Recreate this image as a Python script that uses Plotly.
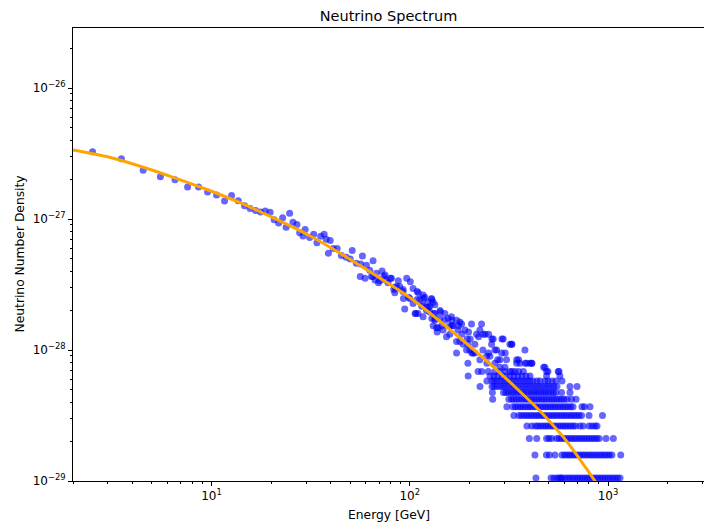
import math
import plotly.graph_objects as go

# ---------------- data ----------------
COUNT_UNIT = 5.27e-30  # number density per count

# individually resolved points: energy [GeV] and counts
pt_energy = [2.51, 3.51, 4.52, 5.52, 6.54, 7.57, 8.60, 9.55, 10.6, 11.63, 12.62, 13.64, 14.68, 15.65,
             16.68, 17.67, 18.67, 19.74, 20.69, 21.8, 22.83, 24.77, 23.78, 25.75, 26.97, 27.83, 29.66,
             28.92, 31.26, 32.75, 34.03, 35.53, 37.0, 37.88, 39.68, 38.86, 41.09, 43.04, 45.2, 47.8,
             51.25, 50.07, 53.7, 57.7, 56.6, 60.45, 65.28, 62.81, 56.25, 59.48, 65.28, 67.9, 72.47,
             70.56, 75.04, 77.69, 80.8, 83.0, 87.5, 89.0, 92.5, 96.5, 100.6, 103.9, 94.3, 100.0, 107.2,
             103.9, 108.9, 84.0, 108.9, 112.3, 116.7, 128.7, 131.2, 115.9, 121.5, 126.2, 142.5, 133.8,
             150.2, 156.1, 172.2, 178.9, 139.0, 147.2, 159.2, 153.2, 165.4, 189.6, 204.9, 230.2, 225.7,
             194.7, 178.9, 172.2, 200.9, 208.8, 234.6, 263.6, 296.0, 326.4, 274.2, 244.1, 284.9, 381.0,
             346.0, 388.6, 411.9, 133.8, 162.4, 182.5, 131.2, 137.4, 172.2, 185.9, 217.3, 249.8, 258.7,
             320.0, 193.4, 213.0, 225.7, 268.8, 290.6, 307.9, 346.0, 359.5, 403.8, 480.8, 196.4, 205.6,
             249.8, 244.9, 277.4, 303.0, 354.1, 382.3, 413.3, 473.6, 66.8, 69.5, 84.3, 92.9, 98.5,
             106.4, 110.6, 117.3, 129.2, 114.9, 124.3, 131.8, 142.2, 162.9, 176.2, 129.2, 145.0, 162.9,
             222.3, 201.6, 240.1, 259.6, 291.6, 327.5, 197.9, 64.1, 73.9, 75.65, 79.9, 85.7, 92.5,
             119.1, 110.1, 121.5, 116.7, 133.8, 136.5, 133.8,
             150.2, 159.2, 174.8, 183.1, 196.3, 213.0, 233.8, 253.6, 268.8, 284.9, 301.9, 327.5,
             141.7, 126.2, 123.3]
pt_counts = [619, 547, 447, 399, 379, 333, 333, 305, 289, 260, 287, 262, 239, 228,
             220, 215, 218, 214, 187, 177, 194, 210, 164, 179, 172, 149, 158,
             141, 137, 145, 125, 140, 145, 133, 130, 104, 113, 113, 100, 97,
             109, 94, 87, 99, 86, 84, 91, 77, 69, 67, 69, 73, 76,
             64, 71, 62, 67, 55, 64, 58, 55, 67, 63, 56, 39, 47, 36,
             43, 46, 52, 53, 46, 50, 47, 44, 42, 40, 37, 37, 33,
             36, 33, 32, 31, 28, 27, 25, 24, 29, 27, 30, 30, 27,
             23, 22, 18, 19, 18, 25, 23, 23, 21, 19, 17, 16, 19,
             15, 15, 15, 36, 34, 30, 29, 26, 22, 21, 25, 25, 21,
             21, 19, 18, 16, 19, 18, 16, 16, 15, 15, 14, 15, 18,
             18, 15, 16, 18, 16, 15, 15, 14, 65, 62, 57, 47, 48,
             36, 52, 47, 46, 41, 40, 36, 38, 32, 29, 33, 29, 29,
             24, 23, 25, 23, 23, 21, 26, 69, 69, 65, 67, 58, 53,
             48, 36, 38, 34, 32, 28, 42,
             32, 29, 27, 25, 21, 21, 19, 17, 15, 14, 14, 13,
             33, 41, 44]

# quantised rows at low counts: energies [GeV] of points with the given count
row13_energy = [221, 231, 249, 269, 285, 302, 320, 339, 354, 374, 490, 498, 561, 566]
row12_energy = [197, 254, 266, 278, 292, 305, 320, 335, 351, 368, 386, 404, 490, 572]
row11_energy = [245, 260, 266, 275, 285, 295, 305, 316, 328, 339, 351, 364, 377, 390, 404, 418,
                438, 454, 481, 498, 522, 546, 586]
row10_energy = [226, 260, 266, 275, 285, 295, 305, 316, 328, 339, 351, 364, 377, 390, 404, 418,
                433, 448, 464, 481, 498, 516, 534, 553, 643, 698]
row9_energy = [261, 297, 305, 314, 324, 333, 343, 353, 364, 374, 386, 397, 409, 421, 433, 446,
               459, 473, 486, 501, 516, 531, 546, 583, 643]
row8_energy = [262, 316, 326, 335, 345, 355, 366, 377, 388, 399, 411, 423, 436, 448, 462, 475,
               489, 504, 519, 534, 550, 566, 583, 600, 621, 654, 690]
row7_energy = [309, 331, 341, 351, 362, 372, 383, 395, 406, 418, 431, 443, 456, 470, 484, 498,
               513, 528, 543, 559, 576, 593, 610, 628, 647, 666, 739, 761, 811]
row6_energy = [335, 355, 366, 377, 388, 399, 411, 423, 436, 448, 462, 475, 489, 504, 519, 534,
               550, 566, 583, 600, 617, 636, 654, 674, 694, 714, 735, 802, 938]
row5_energy = [390, 413, 431, 443, 456, 470, 484, 498, 513, 528, 543, 559, 576, 593, 610, 628,
               647, 666, 685, 722, 748, 802, 830, 860, 880]
row4_energy = [401, 437, 490, 504, 520, 551, 567, 584, 601, 619, 637, 656, 675, 695, 716, 737,
               759, 781, 804, 828, 852, 877, 903, 977, 1064]
row3_energy = [428, 489, 506, 540, 586, 603, 621, 639, 658, 677, 697, 718, 739, 761, 784, 807,
               830, 855, 880, 906, 933, 960, 988, 1017, 1047, 1159]
row2_energy = [433, 516, 534, 553, 566, 579, 586, 607, 625, 643, 662, 682, 702, 722, 744, 766,
               788, 811, 835, 860, 885, 912, 938, 966, 995, 1024, 1054, 1085, 1117, 1150]

# fitted model curve
curve_energy = [2.0, 2.915, 4.33, 6.35, 9.33, 13.85, 20.3, 30.2, 44.3, 65.0, 96.6, 112.3, 164.9,
                244.8, 359.5, 453.6, 521.5, 620.8, 722.3, 860.0, 1023.5]
curve_density = [3.37e-27, 3.01e-27, 2.54e-27, 2.09e-27, 1.694e-27, 1.337e-27, 1.027e-27, 7.68e-28,
                 5.50e-28, 3.84e-28, 2.61e-28, 2.205e-28, 1.372e-28, 8.24e-29, 4.82e-29, 3.42e-29,
                 2.72e-29, 2.00e-29, 1.459e-29, 1.0e-29, 6.56e-30]

x_tick_vals = [10, 100, 1000]
x_tick_text = ["10<sup>1</sup>", "10<sup>2</sup>", "10<sup>3</sup>"]
y_tick_vals = [1e-29, 1e-28, 1e-27, 1e-26]
y_tick_text = ["10<sup>\u221229</sup>", "10<sup>\u221228</sup>", "10<sup>\u221227</sup>", "10<sup>\u221226</sup>"]

# ---------------- assemble ----------------
rows = [(13, row13_energy), (12, row12_energy), (11, row11_energy), (10, row10_energy),
        (9, row9_energy), (8, row8_energy), (7, row7_energy), (6, row6_energy),
        (5, row5_energy), (4, row4_energy), (3, row3_energy), (2, row2_energy)]

sc_x = list(pt_energy)
sc_y = [c * COUNT_UNIT for c in pt_counts]
for k, es in rows:
    sc_x += es
    sc_y += [k * COUNT_UNIT] * len(es)

x_minor = [m * 10 ** d for d in range(0, 4) for m in range(2, 10)]
y_minor = [m * 10.0 ** d for d in range(-29, -25) for m in range(2, 10)]

fig = go.Figure()
fig.add_trace(go.Scatter(
    x=sc_x, y=sc_y, mode="markers",
    marker=dict(size=7, color="rgba(0,0,255,0.6)", line=dict(width=0)),
    showlegend=False, hoverinfo="skip"))
fig.add_trace(go.Scatter(
    x=curve_energy, y=curve_density, mode="lines",
    line=dict(color="#FFA500", width=3, shape="spline", smoothing=0.8),
    showlegend=False, hoverinfo="skip"))

font_family = "DejaVu Sans"
axis_common = dict(
    showgrid=False, zeroline=False, showline=True, linecolor="black", linewidth=1,
    mirror=True, ticks="outside", ticklen=4, tickwidth=1, tickcolor="black",
    automargin=False,
    tickfont=dict(family=font_family, size=12, color="black"),
)

fig.update_layout(
    width=704, height=527,
    margin=dict(l=73, r=0, t=28, b=46, autoexpand=False),
    paper_bgcolor="white", plot_bgcolor="white",
    font=dict(family=font_family, color="black"),
    title=dict(text="Neutrino Spectrum", x=0.5, xref="paper", xanchor="center",
               y=1 - 16 / 527, yanchor="middle", yref="container",
               font=dict(family=font_family, size=14.5, color="black")),
    xaxis=dict(type="log", range=[math.log10(2.0), math.log10(3050)],
               tickvals=x_tick_vals, ticktext=x_tick_text,
               minor=dict(tickvals=x_minor, ticks="outside", ticklen=2, tickcolor="black"),
               **axis_common),
    yaxis=dict(type="log", range=[-29, -25.542],
               tickvals=y_tick_vals, ticktext=y_tick_text,
               minor=dict(tickvals=y_minor, ticks="outside", ticklen=2, tickcolor="black"),
               **axis_common),
    annotations=[
        dict(text="Energy [GeV]", xref="paper", yref="paper", x=0.5, y=-(515 - 481) / 453,
             xanchor="center", yanchor="middle", showarrow=False,
             font=dict(family=font_family, size=12.3, color="black")),
        dict(text="Neutrino Number Density", xref="paper", yref="paper",
             x=-(73 - 19) / 631, y=0.5, xanchor="center", yanchor="middle", textangle=-90,
             showarrow=False, font=dict(family=font_family, size=12.3, color="black")),
    ],
)

fig.write_html(
    "out.html",
    config={"displayModeBar": False},
    post_script="document.body.style.margin='0';document.body.style.padding='0';"
                "document.body.style.overflow='hidden';",
)
